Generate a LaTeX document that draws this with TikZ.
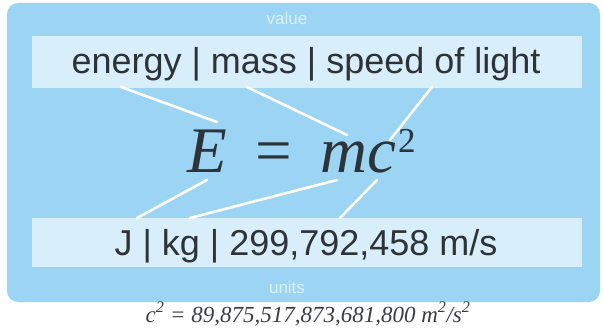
\documentclass[tikz,border=0pt]{standalone}
\usepackage{fontspec}
\setmainfont{Liberation Sans}
\newfontfamily\serifface{Liberation Serif}
\definecolor{boxblue}{HTML}{9BD5F3}
\definecolor{barblue}{HTML}{D8EEFA}
\definecolor{inkgray}{HTML}{2E3338}
\tikzset{
  bar/.style={fill=barblue, draw=none, minimum width=550pt, inner sep=0pt},
  bartext/.style={text=inkgray, font=\fontsize{36}{36}\selectfont, inner sep=0pt},
  tag/.style={text=white!65!boxblue, font=\fontsize{17}{17}\selectfont, inner sep=0pt},
  link/.style={draw=white, line width=2.6pt, line cap=round},
  eqpart/.style={inner sep=0pt, text=inkgray, font=\serifface\fontsize{65}{65}\selectfont}
}
\begin{document}
\begin{tikzpicture}[x=1pt,y=-1pt]
\useasboundingbox (0,0) rectangle (604,328);
\fill[white] (0,0) rectangle (604,328);
\fill[boxblue, rounded corners=11pt] (7,3) rectangle (600,302);
\node[tag] (value) at (287,18) {value};
\node[tag] (units) at (287,287) {units};
\node[bar, minimum height=52pt] (topbar) at (307,62) {};
\node[bar, minimum height=49pt] (botbar) at (307,242.5) {};
\node[bartext, anchor=base] (toptext) at (306,74) {energy | mass | speed of light};
\node[bartext, anchor=base] (bottext) at (306,256) {J | kg | 299,792,458 m/s};
% link end points
\coordinate (a1) at (121,87);
\coordinate (a2) at (217,122);
\coordinate (b1) at (247,87);
\coordinate (b2) at (347,135);
\coordinate (c1) at (432,87);
\coordinate (c2) at (390,140);
\coordinate (d1) at (207,180);
\coordinate (d2) at (137,218);
\coordinate (e1) at (337,180);
\coordinate (e2) at (190,218);
\coordinate (f1) at (377,180);
\coordinate (f2) at (340,218);
\draw[link] (a1) -- (a2);
\draw[link] (b1) -- (b2);
\draw[link] (c1) -- (c2);
\draw[link] (d1) -- (d2);
\draw[link] (e1) -- (e2);
\draw[link] (f1) -- (f2);
\node[eqpart, anchor=base west] (eqE) at (187,173) {\itshape E};
\node[eqpart, anchor=base] (eqeq) at (273.5,173) {=};
\node[eqpart, anchor=base west] (eqmc) at (320,173) {\itshape mc};
\node[eqpart, anchor=base west, font=\serifface\fontsize{35}{35}\selectfont] (eqtwo) at (398,153) {2};
\node[anchor=base, inner sep=0pt, text=inkgray!85!gray] (csq) at (308,322)
  {\serifface\itshape\fontsize{23}{23}\selectfont c\textsuperscript{2} = 89,875,517,873,681,800 m\textsuperscript{2}/s\textsuperscript{2}};
\end{tikzpicture}
\end{document}
